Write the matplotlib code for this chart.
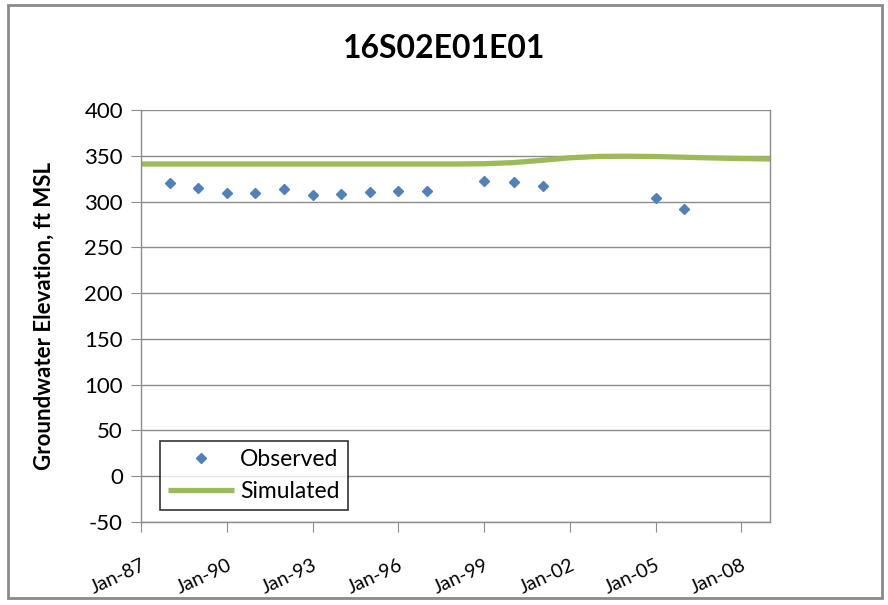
import matplotlib
matplotlib.use("Agg")
import matplotlib.pyplot as plt
import matplotlib.dates as mdates
from matplotlib.patches import Rectangle
from datetime import datetime

plt.rcParams['font.family'] = ['Lato', 'DejaVu Sans']

title = "16S02E01E01"
ylabel = "Groundwater Elevation, ft MSL"

obs_dates = ["1988-01-01", "1989-01-01", "1990-01-01", "1991-01-01", "1992-01-01",
             "1993-01-01", "1994-01-01", "1995-01-01", "1996-01-01", "1997-01-01",
             "1999-01-01", "2000-01-20", "2001-01-20", "2005-01-01", "2006-01-01"]
obs_values = [320.6, 314.5, 309.0, 309.0, 314.1, 307.2, 308.3, 310.1, 311.2, 311.2,
              322.8, 321.0, 317.4, 304.3, 292.2]

sim_dates = ["1987-01-01", "1990-01-01", "1993-01-01", "1996-01-01", "1998-01-01",
             "1999-01-01", "2000-01-01", "2001-01-01", "2002-01-01", "2003-01-01",
             "2004-01-01", "2005-01-01", "2006-01-01", "2007-01-01", "2008-01-01",
             "2009-01-01"]
sim_values = [341.0, 341.0, 341.0, 341.0, 341.0, 341.3, 342.5, 345.0, 347.8, 349.3,
              349.5, 349.2, 348.4, 347.6, 347.0, 346.5]

yticks = [-50, 0, 50, 100, 150, 200, 250, 300, 350, 400]
xtick_years = [1987, 1990, 1993, 1996, 1999, 2002, 2005, 2008]

to_dt = lambda s: datetime.strptime(s, "%Y-%m-%d")
od = [to_dt(s) for s in obs_dates]
sd = [to_dt(s) for s in sim_dates]

fig = plt.figure(figsize=(8.88, 6.05), dpi=100)
ax = fig.add_axes([141/888, 1-522/605, (770-141)/888, (522-110)/605])

grid_c = "#8c8c8c"
ax.set_axisbelow(True)
ax.grid(axis='y', color=grid_c, lw=1)
ax.plot(sd, sim_values, color="#9BBB59", lw=3.8, label="Simulated", zorder=2, solid_capstyle='butt')
ax.plot(od, obs_values, ls='none', marker='D', ms=5, color="#4F81BD", label="Observed", zorder=3)

ax.set_xlim(datetime(1987, 1, 1), datetime(2009, 1, 1))
ax.set_ylim(-50, 400)
ax.set_yticks(yticks)
ax.set_yticklabels([str(v) for v in yticks])
ax.set_xticks([datetime(y, 1, 1) for y in xtick_years])
ax.set_xticklabels(["Jan-%02d" % (y % 100) for y in xtick_years], rotation=25,
                   ha='right', rotation_mode='anchor')
ax.tick_params(axis='y', labelsize=16, length=7, color=grid_c, pad=6)
ax.tick_params(axis='x', labelsize=14, length=7, color=grid_c, pad=18)
ax.spines['top'].set_visible(False)
for s in ['left', 'bottom', 'right']:
    ax.spines[s].set_color(grid_c)
    ax.spines[s].set_linewidth(1)

ax.set_ylabel(ylabel, fontsize=16, fontweight='bold', labelpad=21)
fig.text(444/888, 1-48/605, title, ha='center', va='center', fontsize=23, fontweight='bold')

h, l = ax.get_legend_handles_labels()
leg = ax.legend([h[1], h[0]], [l[1], l[0]], loc='lower left', bbox_to_anchor=(0.03, 0.03),
                fontsize=16.5, frameon=True, fancybox=False, edgecolor='black',
                handlelength=2.9, handletextpad=0.25, borderpad=0.35, labelspacing=0.45,
                borderaxespad=0.0)
leg.get_frame().set_linewidth(1.2)

fig.patches.append(Rectangle((8/888, 1-598/605), 874/888, 593/605, transform=fig.transFigure,
                             fill=False, edgecolor="#8a8a8a", lw=2))

fig.savefig("out.png", dpi=100)
